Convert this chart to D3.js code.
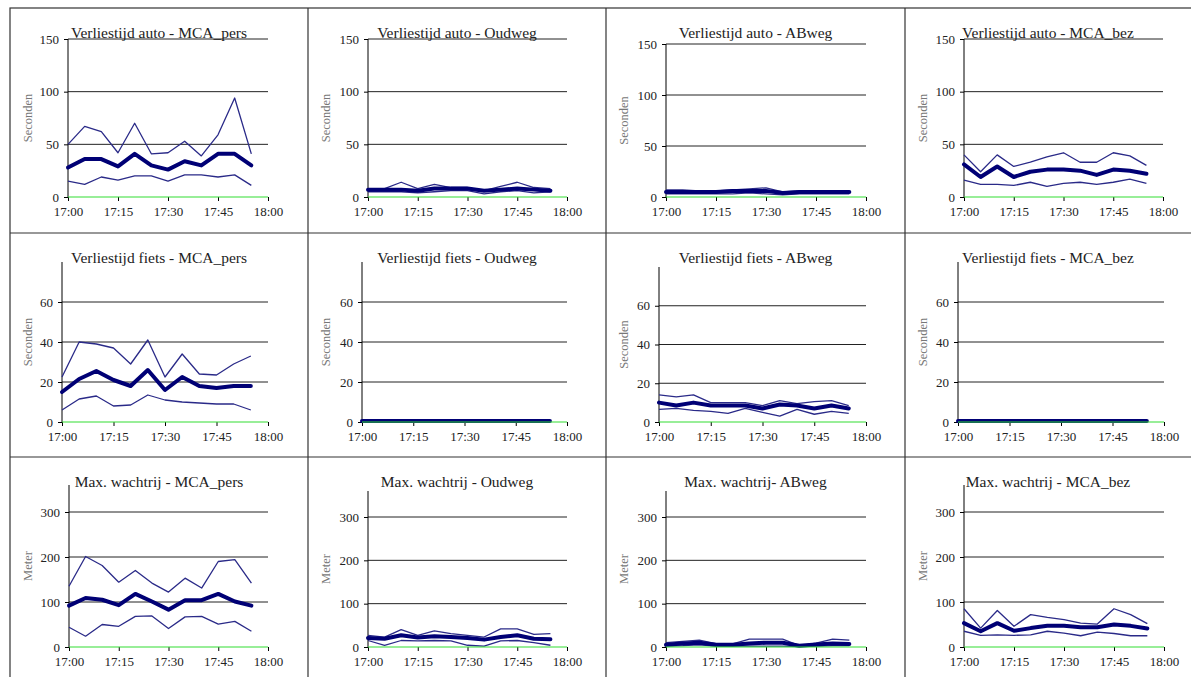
<!DOCTYPE html>
<html>
<head>
<meta charset="utf-8">
<script src="https://cdn.jsdelivr.net/npm/d3@7"></script>
<style>
  body { margin: 0; background: #fff; }
  svg { display: block; }
</style>
</head>
<body>
<svg id="chart" width="1191" height="677"></svg>
<script>
// time steps (5 minute intervals)
const times = ["17:00","17:05","17:10","17:15","17:20","17:25","17:30","17:35","17:40","17:45","17:50","17:55"];
const xTicks = ["17:00","17:15","17:30","17:45","18:00"];

// each panel: [upper, mean, lower]
const autoMcaPers = [
  [50, 67, 62, 42, 70, 41, 42, 53, 39, 59, 94, 41],
  [28, 36, 36, 29, 41, 30, 26, 34, 30, 41, 41, 30],
  [15, 12, 19, 16, 20, 20, 15, 21, 21, 19, 21, 11]
];
const autoOudweg = [
  [8, 8, 14, 8, 12, 9, 9, 6, 10, 14, 9, 8],
  [7, 7, 7, 6, 8, 8, 8, 6, 7, 8, 7, 6],
  [5, 5, 5, 4, 5, 6, 6, 3, 5, 6, 4, 5]
];
const autoAbweg = [
  [7, 7, 6, 6, 7, 8, 9, 5, 6, 6, 6, 6],
  [5, 5, 5, 5, 6, 6, 6, 4, 5, 5, 5, 5],
  [3, 3, 3, 3, 3, 4, 3, 2, 3, 3, 3, 3]
];
const autoMcaBez = [
  [40, 24, 40, 29, 33, 38, 42, 33, 33, 42, 39, 30],
  [31, 19, 29, 19, 24, 26, 26, 25, 21, 26, 25, 22],
  [16, 12, 12, 11, 14, 10, 13, 14, 12, 14, 17, 13]
];
const fietsMcaPers = [
  [22.5, 40, 39, 37, 29, 41, 22.5, 34, 24, 23.5, 29, 33],
  [15, 21.5, 25.5, 21, 18, 26, 16, 22.5, 18, 17, 18, 18],
  [6, 11.5, 13, 8, 8.5, 13.5, 11, 10, 9.5, 9, 9, 6]
];
const fietsOudweg = [
  [0.6, 0.6, 0.6, 0.6, 0.6, 0.6, 0.6, 0.6, 0.6, 0.6, 0.6, 0.6],
  [0.5, 0.5, 0.5, 0.5, 0.5, 0.5, 0.5, 0.5, 0.5, 0.5, 0.5, 0.5],
  [0.3, 0.3, 0.3, 0.3, 0.3, 0.3, 0.3, 0.3, 0.3, 0.3, 0.3, 0.3]
];
const fietsAbweg = [
  [14, 13, 14, 10, 10, 10, 8.5, 11, 9.5, 10.5, 11, 8.5],
  [10, 8.5, 10, 8.5, 8.5, 8.5, 7, 9, 8.5, 7, 8.5, 7],
  [6.5, 7, 6, 5.5, 4.5, 7, 5, 3, 6.5, 4, 5.5, 4.5]
];
const fietsMcaBez = [
  [0.6, 0.6, 0.6, 0.6, 0.6, 0.6, 0.6, 0.6, 0.6, 0.6, 0.6, 0.6],
  [0.5, 0.5, 0.5, 0.5, 0.5, 0.5, 0.5, 0.5, 0.5, 0.5, 0.5, 0.5],
  [0.3, 0.3, 0.3, 0.3, 0.3, 0.3, 0.3, 0.3, 0.3, 0.3, 0.3, 0.3]
];
const wachtMcaPers = [
  [135, 201, 181, 144, 170, 142, 122, 153, 131, 190, 194, 142],
  [92, 109, 105, 93, 118, 101, 83, 104, 104, 118, 101, 92],
  [44, 24, 50, 46, 68, 69, 41, 67, 68, 51, 57, 35]
];
const wachtOudweg = [
  [27, 23, 40, 27, 37, 31, 27, 23, 42, 42, 29, 31],
  [21, 19, 27, 22, 25, 23, 21, 17, 23, 27, 19, 18],
  [15, 4, 15, 14, 15, 14, 4, 2, 14, 15, 10, 4]
];
const wachtAbweg = [
  [10, 13, 16, 8, 7, 18, 18, 18, 3, 9, 18, 16],
  [5, 8, 10, 5, 5, 8, 10, 10, 3, 6, 8, 7],
  [2, 3, 5, 2, 2, 2, 2, 2, 1, 2, 3, 3]
];
const wachtMcaBez = [
  [85, 42, 81, 46, 72, 66, 61, 53, 51, 85, 72, 52],
  [53, 35, 53, 36, 42, 47, 47, 44, 44, 50, 47, 41],
  [35, 26, 27, 26, 27, 35, 31, 25, 33, 30, 25, 25]
];

const titles = [
  "Verliestijd auto - MCA_pers", "Verliestijd auto - Oudweg", "Verliestijd auto - ABweg", "Verliestijd auto - MCA_bez",
  "Verliestijd fiets - MCA_pers", "Verliestijd fiets - Oudweg", "Verliestijd fiets - ABweg", "Verliestijd fiets - MCA_bez",
  "Max. wachtrij - MCA_pers", "Max. wachtrij - Oudweg", "Max. wachtrij- ABweg", "Max. wachtrij - MCA_bez"
];
const panelData = [
  autoMcaPers, autoOudweg, autoAbweg, autoMcaBez,
  fietsMcaPers, fietsOudweg, fietsAbweg, fietsMcaBez,
  wachtMcaPers, wachtOudweg, wachtAbweg, wachtMcaBez
];
// per row: y label, axis max, tick values
const rowUnits = ["Seconden", "Seconden", "Meter"];
const rowMax = [150, 80, 360];
const rowTicks = [[0, 50, 100, 150], [0, 20, 40, 60], [0, 100, 200, 300]];

// layout (pixels)
const colLeft = [10, 308, 606, 905];
const rowTop = [8, 233, 457];
// plot boxes: x at 17:00, x at 18:00, y at axis max, y at 0
const boxes = [
  [68, 268, 39, 197], [368, 567, 39, 197], [666, 866, 44, 197], [964, 1163, 39, 197],
  [62, 268, 262, 422], [362, 567, 262, 422], [659, 866, 267, 422], [958, 1164, 262, 422],
  [69, 268, 485, 647], [368, 567, 491, 647], [666, 866, 491, 647], [964, 1164, 485, 647]
];

const parseT = d3.timeParse("%H:%M");
const fmtT = d3.timeFormat("%H:%M");
const svg = d3.select("#chart");
const serif = "'Liberation Serif', 'DejaVu Serif', serif";

// frame
svg.append("rect").attr("x", 10).attr("y", 8).attr("width", 1200).attr("height", 700)
  .attr("fill", "none").attr("stroke", "#333").attr("stroke-width", 1.2);
colLeft.slice(1).forEach(x => {
  svg.append("line").attr("x1", x).attr("x2", x).attr("y1", 8).attr("y2", 700)
    .attr("stroke", "#333").attr("stroke-width", 1.2);
});
rowTop.slice(1).forEach(y => {
  svg.append("line").attr("x1", 10).attr("x2", 1200).attr("y1", y).attr("y2", y)
    .attr("stroke", "#333").attr("stroke-width", 1.2);
});

panelData.forEach((series, i) => {
  const row = Math.floor(i / 4), col = i % 4;
  const [bx0, bx1, byTop, by0] = boxes[i];
  const g = svg.append("g");

  const x = d3.scaleTime()
    .domain([parseT("17:00"), parseT("18:00")])
    .range([bx0, bx1]);
  const y = d3.scaleLinear()
    .domain([0, rowMax[row]])
    .range([by0, byTop]);

  // gridlines
  g.selectAll(".grid")
    .data(rowTicks[row].filter(v => v > 0))
    .enter().append("line")
    .attr("x1", bx0).attr("x2", bx1)
    .attr("y1", d => y(d)).attr("y2", d => y(d))
    .attr("stroke", "#222").attr("stroke-width", 1);

  // y axis
  const yAxis = g.append("g")
    .attr("transform", `translate(${bx0},0)`)
    .call(d3.axisLeft(y).tickValues(rowTicks[row]).tickSize(4).tickPadding(5));
  yAxis.select(".domain").attr("stroke", "#000").attr("d", `M0,${by0}V${byTop}`);
  yAxis.selectAll(".tick line").attr("stroke", "#000");
  yAxis.selectAll("text").attr("font-family", serif).attr("font-size", 13).attr("fill", "#222");

  // x axis
  const xAxis = g.append("g")
    .attr("transform", `translate(0,${by0})`)
    .call(d3.axisBottom(x).tickValues(xTicks.map(parseT)).tickFormat(fmtT).tickSize(4).tickPadding(6));
  xAxis.select(".domain").remove();
  xAxis.selectAll(".tick line").attr("stroke", "#000");
  xAxis.selectAll("text").attr("font-family", serif).attr("font-size", 13).attr("fill", "#222");

  // series lines: thin upper/lower, thick mean
  const line = d3.line()
    .x((d, k) => x(parseT(times[k])))
    .y(d => y(d));
  [series[0], series[2]].forEach(s => {
    g.append("path").datum(s).attr("d", line)
      .attr("fill", "none").attr("stroke", "#2a2a88").attr("stroke-width", 1.3)
      .attr("stroke-linejoin", "round");
  });
  g.append("path").datum(series[1]).attr("d", line)
    .attr("fill", "none").attr("stroke", "#000075").attr("stroke-width", 4)
    .attr("stroke-linejoin", "round").attr("stroke-linecap", "round");

  // green zero line
  g.append("line")
    .attr("x1", bx0).attr("x2", bx1).attr("y1", y(0)).attr("y2", y(0))
    .attr("stroke", "#33dd33").attr("stroke-width", 1.2);

  // title
  const cellRight = col < 3 ? colLeft[col + 1] : 1191;
  g.append("text")
    .attr("x", (colLeft[col] + cellRight) / 2)
    .attr("y", rowTop[row] + 30)
    .attr("text-anchor", "middle")
    .attr("font-family", serif).attr("font-size", 15.5).attr("fill", "#222")
    .text(titles[i]);

  // y label
  g.append("text")
    .attr("transform", `translate(${colLeft[col] + 22},${(byTop + by0) / 2}) rotate(-90)`)
    .attr("text-anchor", "middle")
    .attr("font-family", serif).attr("font-size", 12.5).attr("fill", "#777")
    .text(rowUnits[row]);
});
</script>
</body>
</html>
